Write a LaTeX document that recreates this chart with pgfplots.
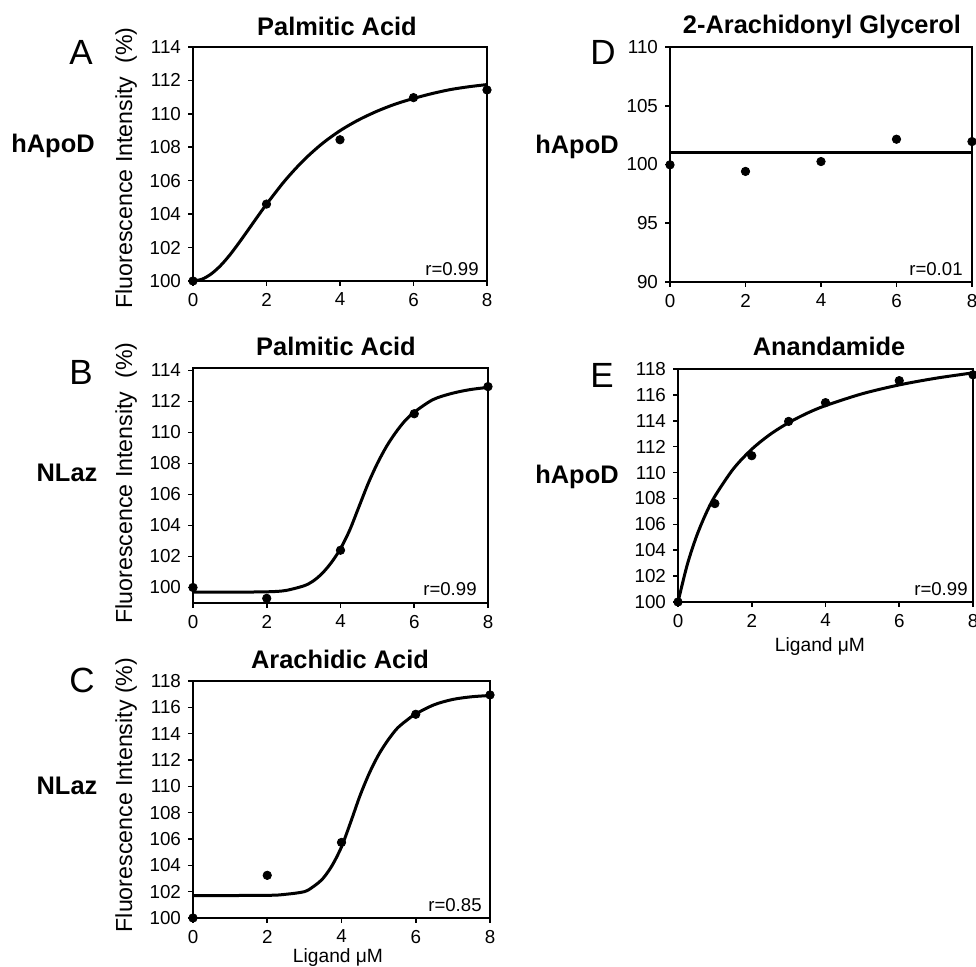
\documentclass[border=0pt]{standalone}
\usepackage{pgfplots}
\pgfplotsset{compat=1.18}
\usepackage{fontspec}
\setmainfont{Liberation Sans}
\pgfplotsset{
  panel/.style={
    scale only axis, anchor=south west, xmin=0, xmax=8,
    xtick={0,2,4,6,8}, axis line style={line width=1.3pt},
    tick align=outside, xtick pos=left, ytick pos=left,
    major tick length=2.5pt, every tick/.style={black,line width=0.8pt},
    ticklabel style={font=\fontsize{9.4}{11}\selectfont},
    /pgf/number format/assume math mode=true,
    clip=false,
  },
  fit/.style={black, line width=1.5pt, smooth, no markers},
  pts/.style={only marks, mark=*, mark size=2.1pt, black},
}
\begin{document}
\begin{tikzpicture}
\useasboundingbox (0,0) rectangle (488pt,483.5pt);
% Panel A
\begin{axis}[panel, at={(96.5pt,343pt)}, width=147pt, height=117pt,
  ymin=100, ymax=114, ytick={100,102,...,114}]
\addplot[fit] coordinates {(0,100) (0.25,100.11) (0.5,100.43) (0.75,100.92) (1,101.55) (1.25,102.28) (1.5,103.05) (1.75,103.83) (2,104.59) (2.5,106.0) (3,107.2) (3.5,108.19) (4,108.99) (4.5,109.63) (5,110.15) (5.5,110.58) (6,110.92) (6.5,111.21) (7,111.45) (7.5,111.62) (8,111.75)};
\addplot[pts] coordinates {(0,100) (2,104.6) (4,108.45) (6,110.97) (8,111.43)};
\end{axis}
% Panel B
\begin{axis}[panel, at={(96.5pt,182pt)}, width=147.5pt, height=117.5pt,
  ymin=99, ymax=114.15, ytick={100,102,...,114}]
\addplot[fit] coordinates {(0,99.7) (1,99.7) (2,99.72) (2.5,99.8) (3,100.1) (3.25,100.4) (3.5,100.9) (3.75,101.6) (4,102.5) (4.25,103.7) (4.5,105.2) (4.75,106.7) (5,108.0) (5.25,109.1) (5.5,110.0) (5.75,110.75) (6,111.3) (6.5,112.1) (7,112.5) (7.5,112.75) (8,112.9)};
\addplot[pts] coordinates {(0,100) (2,99.3) (4,102.4) (6,111.2) (8,112.95)};
\end{axis}
% Panel C
\begin{axis}[panel, at={(96.5pt,24.5pt)}, width=148.5pt, height=118.5pt,
  ymin=100, ymax=118, ytick={100,102,...,118}]
\addplot[fit] coordinates {(0,101.7) (2,101.72) (2.5,101.8) (3,102.0) (3.25,102.4) (3.5,103.0) (3.75,104.0) (4,105.4) (4.25,107.3) (4.5,109.3) (4.75,111.0) (5,112.4) (5.25,113.5) (5.5,114.4) (5.75,115.0) (6,115.5) (6.5,116.2) (7,116.6) (7.5,116.8) (8,116.9) (8.1,116.92)};
\addplot[pts] coordinates {(0,100) (2,103.24) (4,105.74) (6,115.47) (8,116.94)};
\end{axis}
% Panel D
\begin{axis}[panel, at={(335pt,342.5pt)}, width=151pt, height=117.5pt,
  ymin=90, ymax=110, ytick={90,95,...,110}]
\addplot[black, line width=1.5pt] coordinates {(0,101.0) (8,101.0)};
\addplot[pts] coordinates {(0,99.97) (2,99.41) (4,100.25) (6,102.15) (8,101.95)};
\end{axis}
% Panel E
\begin{axis}[panel, at={(339pt,182.5pt)}, width=147.5pt, height=116.5pt,
  ymin=100, ymax=118, ytick={100,102,...,118}]
\addplot[fit] coordinates {(0,100) (0.25,102.87) (0.5,105.06) (0.75,106.78) (1,108.17) (1.5,110.28) (2,111.8) (2.5,112.95) (3,113.85) (3.5,114.58) (4,115.17) (5,116.09) (6,116.77) (7,117.29) (8,117.7)};
\addplot[pts] coordinates {(0,100) (1,107.6) (2,111.3) (3,113.95) (4,115.4) (6,117.1) (8,117.55)};
\end{axis}
% Text annotations (pixel coordinates, origin top-left)
\begin{scope}[x=0.5pt, y=-0.5pt, yshift=483.5pt]
  \tikzset{ttl/.style={font=\bfseries\fontsize{12.7}{15}\selectfont, inner sep=0pt},
           lett/.style={font=\fontsize{17.5}{20}\selectfont, inner sep=0pt},
           row/.style={font=\bfseries\fontsize{12.7}{15}\selectfont, inner sep=0pt},
           ylab/.style={font=\fontsize{11.6}{13}\selectfont, rotate=90, inner sep=0pt},
           rr/.style={font=\fontsize{9.3}{11}\selectfont, inner sep=0pt, anchor=south east},
           xlab/.style={font=\fontsize{9.6}{11}\selectfont, inner sep=0pt}}
  \node[ttl] at (337,26) {Palmitic Acid};
  \node[ttl] at (336,346) {Palmitic Acid};
  \node[ttl] at (340,659) {Arachidic Acid};
  \node[ttl] at (822,27) {2-Arachidonyl Glycerol};
  \node[ttl] at (829,346) {Anandamide};
  \node[lett] at (81,52) {A};
  \node[lett] at (81,372) {B};
  \node[lett] at (82,680) {C};
  \node[lett] at (603,52) {D};
  \node[lett] at (602,375) {E};
  \node[row] at (53,146) {hApoD};
  \node[row] at (67,473) {NLaz};
  \node[row] at (67,786) {NLaz};
  \node[row] at (577,147) {hApoD};
  \node[row] at (577,477) {hApoD};
  \node[ylab] at (126,168) {Fluorescence Intensity\ \ (\%)};
  \node[ylab] at (126,483) {Fluorescence Intensity\ \ (\%)};
  \node[ylab] at (126,795) {Fluorescence Intensity (\%)};
  \node[rr] at (479,276) {r=0.99};
  \node[rr] at (477,596) {r=0.99};
  \node[rr] at (482,912) {r=0.85};
  \node[rr] at (963,276) {r=0.01};
  \node[rr] at (968,596) {r=0.99};
  \node[xlab] at (338,958) {Ligand μM};
  \node[xlab] at (820,647) {Ligand μM};
\end{scope}
\end{tikzpicture}
\end{document}
